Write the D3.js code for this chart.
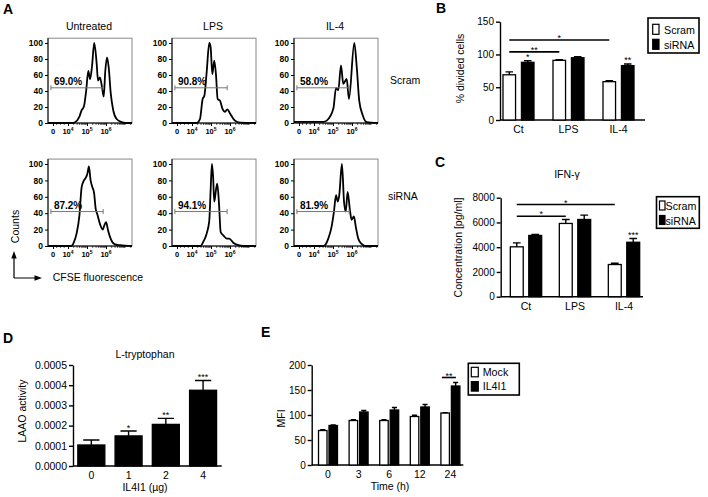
<!DOCTYPE html>
<html><head><meta charset="utf-8">
<script src="https://cdn.jsdelivr.net/npm/d3@7"></script>
<style>body{margin:0;background:#fff}</style>
</head><body>
<svg id="c" width="708" height="497"></svg>
<script>
// ---------------- DATA ----------------
// Panel A: CFSE histograms ([log-decade position, % of max])
const histConds = ["Untreated", "LPS", "IL-4"];
const histRows = ["Scram", "siRNA"];
const histPct = [["69.0%", "90.8%", "58.0%"], ["87.2%", "94.1%", "81.9%"]];
const histYTicks = [0, 20, 40, 60, 80, 100];
const histXTickVals = [3.21, 4, 5, 6];
const histXTickExp = [null, "4", "5", "6"];
const histGate = [3.1, 5.85];
const histGateLevel = [44, 42];

const histUntreatedScram = [[2.95,0],[4.2,0],[4.37,1],[4.6,8],[4.72,16],[4.84,21],[4.95,39],[5.07,65],[5.16,55],[5.26,70],[5.38,100],[5.51,74],[5.58,53],[5.68,57],[5.79,45],[5.88,33],[5.96,64],[6.05,82],[6.14,70],[6.25,37],[6.38,16],[6.56,5],[6.83,1],[7.0,0],[7.37,0]];
const histLPSScram = [[2.95,0],[4.25,0],[4.42,5],[4.56,30],[4.65,34],[4.77,63],[4.91,100],[4.98,95],[5.07,61],[5.17,78],[5.26,61],[5.35,30],[5.47,28],[5.6,18],[5.74,14],[5.86,17],[6.0,12],[6.26,3],[6.53,0.5],[7.37,0]];
const histIL4Scram = [[2.95,1.5],[4.5,1.5],[4.67,3],[5.02,18],[5.16,44],[5.28,41],[5.42,72],[5.54,49],[5.72,55],[5.84,30],[6.12,100],[6.25,70],[6.38,28],[6.56,10],[6.77,1],[7.37,0]];
const histUntreatedSiRNA = [[2.95,0],[4.19,0],[4.28,3],[4.46,16],[4.6,37],[4.72,72],[4.84,80],[4.93,83],[5.02,88],[5.1,97],[5.19,80],[5.28,72],[5.37,65],[5.46,45],[5.54,39],[5.68,27],[5.83,20],[5.91,25],[6.0,29],[6.12,18],[6.26,8],[6.47,2],[6.74,1],[7.37,0]];
const histLPSSiRNA = [[2.95,0],[4.45,0],[4.59,5],[4.77,15],[4.91,31],[4.98,68],[5.05,100],[5.11,85],[5.17,54],[5.26,68],[5.33,76],[5.42,52],[5.51,17],[5.65,13],[5.83,9],[5.96,9],[6.17,4],[6.44,1],[6.7,0],[7.37,0]];
const histIL4SiRNA = [[2.95,0],[4.49,0],[4.58,1],[4.75,9],[4.93,24],[5.05,42],[5.16,62],[5.25,54],[5.33,62],[5.47,100],[5.58,54],[5.67,42],[5.77,66],[5.89,44],[5.98,32],[6.1,36],[6.21,22],[6.33,9],[6.51,2.5],[6.68,0],[7.37,0]];
const histData = [[histUntreatedScram, histLPSScram, histIL4Scram], [histUntreatedSiRNA, histLPSSiRNA, histIL4SiRNA]];

// Panel B: % divided cells
const bCats = ["Ct", "LPS", "IL-4"];
const bSeries = ["Scram", "siRNA"];
const bScram = [69, 91, 58.5];
const bScramSem = [4.5, 1, 1.5];
const bSiRNA = [88, 95, 83];
const bSiRNASem = [2.5, 1.5, 2.5];
const bYTicks = [0, 50, 100, 150];
const bBrackets = [{from: "Ct", to: "IL-4", y: 122, label: "*"}, {from: "Ct", to: "LPS", y: 104, label: "**"}];
const bStars = [{cat: "Ct", series: "siRNA", label: "*"}, {cat: "IL-4", series: "siRNA", label: "**"}];

// Panel C: IFN-γ
const cCats = ["Ct", "LPS", "IL-4"];
const cSeries = ["Scram", "siRNA"];
const cScram = [4030, 5920, 2600];
const cScramSem = [320, 320, 100];
const cSiRNA = [4950, 6240, 4400];
const cSiRNASem = [80, 350, 300];
const cYTicks = [0, 2000, 4000, 6000, 8000];
const cBrackets = [{from: "Ct", to: "IL-4", y: 7450, label: "*"}, {from: "Ct", to: "LPS", y: 6500, label: "*"}];
const cStars = [{cat: "IL-4", series: "siRNA", label: "***"}];

// Panel D: LAAO activity
const dCats = ["0", "1", "2", "4"];
const dSeries = ["IL4I1"];
const dValues = [0.000104, 0.000149, 0.000206, 0.000375];
const dSem = [0.000025, 0.000024, 0.00003, 0.000048];
const dYTicks = [0, 0.0001, 0.0002, 0.0003, 0.0004, 0.0005];
const dStars = [{cat: "1", series: "IL4I1", label: "*"}, {cat: "2", series: "IL4I1", label: "**"}, {cat: "4", series: "IL4I1", label: "***"}];

// Panel E: MFI over time
const eCats = ["0", "3", "6", "12", "24"];
const eSeries = ["Mock", "IL4I1"];
const eMock = [69, 89, 89, 97, 104];
const eMockSem = [1.5, 1.5, 1.5, 2.5, 0.8];
const eIL4I1 = [79, 106, 110, 116, 158];
const eIL4I1Sem = [1, 3, 5, 5, 7];
const eYTicks = [0, 50, 100, 150, 200];
const eBrackets = [{cat: "24", y: 175, label: "**"}];

// ---------------- DRAWING ----------------
const FONT = '"Liberation Sans", Arial, Helvetica, sans-serif';
const svg = d3.select("#c").attr("font-family", FONT);

function txt(x, y, s, o = {}) {
  const t = svg.append("text").attr("x", x).attr("y", y).text(s)
    .attr("font-size", o.fs || 10.5).attr("fill", "#000")
    .attr("text-anchor", o.anchor || "start");
  if (o.bold) t.attr("font-weight", "bold");
  if (o.rot) t.attr("x", null).attr("y", null).attr("transform", `translate(${x},${y}) rotate(-90)`);
  return t;
}
function styleAxis(g, fs, bold, sw) {
  g.attr("font-family", FONT).attr("font-size", fs);
  g.selectAll("text").attr("fill", "#000").attr("font-weight", bold ? "bold" : null);
  g.selectAll("line").attr("stroke", "#000").attr("stroke-width", sw || 1);
  g.select(".domain").attr("stroke", "#000").attr("stroke-width", sw || 1);
}

// Panel letters
[["A", 3, 14], ["B", 436, 13], ["C", 435, 167], ["D", 3, 343], ["E", 261, 337]]
  .forEach(([l, x, y]) => txt(x, y, l, {fs: 14, bold: true}));

// ----- Panel A -----
const colLeft = [48, 172, 294], boxW = 84;
const rowZero = [123, 246], rowTop = [43, 164];
const uLeft = 4 - 20 / 19, uRight = 4 + 64 / 19;

histRows.forEach((row, i) => {
  histConds.forEach((cond, j) => {
    const x = d3.scaleLinear().domain([uLeft, uRight]).range([colLeft[j], colLeft[j] + boxW]);
    const y = d3.scaleLinear().domain([0, 100]).range([rowZero[i], rowTop[i]]);
    const g = svg.append("g");
    g.append("rect").attr("x", x(uLeft)).attr("y", y(106)).attr("width", boxW)
      .attr("height", y(0) - y(106)).attr("fill", "none").attr("stroke", "#888").attr("stroke-width", 1);
    g.append("path").attr("d", `M${x(uLeft)},${y(106)}V${y(0)}H${x(uRight)}`)
      .attr("fill", "none").attr("stroke", "#000").attr("stroke-width", 1);
    g.append("g").attr("transform", `translate(${x(uLeft)},0)`)
      .call(d3.axisLeft(y).tickValues(histYTicks).tickSize(3).tickPadding(2).tickSizeOuter(0))
      .call(a => { a.select(".domain").remove(); styleAxis(a, 8.5, true); });
    g.append("g").attr("transform", `translate(0,${y(0)})`)
      .call(d3.axisBottom(x).tickValues(histXTickVals).tickSize(3).tickFormat(() => "").tickSizeOuter(0))
      .call(a => { a.select(".domain").remove(); styleAxis(a, 7.5, true); });
    const minors = [];
    [4, 5, 6, 7].forEach(d => d3.range(2, 10).forEach(k => { const u = d + Math.log10(k); if (u < uRight) minors.push(u); }));
    [3.4, 3.6, 3.8, 7].forEach(u => minors.push(u));
    g.selectAll(null).data(minors).join("line")
      .attr("x1", d => x(d)).attr("x2", d => x(d)).attr("y1", y(0)).attr("y2", y(0) + 1.8)
      .attr("stroke", "#000").attr("stroke-width", 0.8);
    histXTickVals.forEach((v, k) => {
      const t = g.append("text").attr("x", x(v)).attr("y", y(0) + 10.5).attr("text-anchor", "middle")
        .attr("font-size", 7.5).attr("font-weight", "bold").attr("fill", "#000");
      if (histXTickExp[k] === null) t.text("0");
      else {
        t.append("tspan").text("10");
        t.append("tspan").attr("dy", -3).attr("font-size", 5).text(histXTickExp[k]);
      }
    });
    const clipId = `clip${i}${j}`;
    g.append("clipPath").attr("id", clipId).append("rect")
      .attr("x", x(uLeft)).attr("y", y(106)).attr("width", boxW).attr("height", y(0) - y(106) + 1);
    const line = d3.line().x(d => x(d[0])).y(d => y(d[1])).curve(d3.curveMonotoneX);
    g.append("path").datum(histData[i][j]).attr("d", line).attr("clip-path", `url(#${clipId})`)
      .attr("fill", "none").attr("stroke", "#000").attr("stroke-width", 1.8).attr("stroke-linejoin", "round");
    const gy = y(histGateLevel[i]);
    g.append("path").attr("d", `M${x(histGate[0])},${gy}H${x(histGate[1])}M${x(histGate[0])},${gy - 2.5}V${gy + 2.5}M${x(histGate[1])},${gy - 2.5}V${gy + 2.5}`)
      .attr("stroke", "#777").attr("stroke-width", 1).attr("fill", "none");
    g.append("text").attr("x", x(histGate[0]) + 3).attr("y", gy - 3).text(histPct[i][j])
      .attr("font-size", 10).attr("font-weight", "bold").attr("fill", "#000");
    if (i === 0) txt(colLeft[j] + boxW / 2 - 1, 30, cond, {anchor: "middle", fs: 10.5});
  });
});
txt(390, 84, histRows[0], {fs: 10.5});
txt(388, 200, histRows[1], {fs: 10.5});

svg.append("path").attr("d", "M14,278V256M14,278H37").attr("stroke", "#000").attr("stroke-width", 1.2).attr("fill", "none");
svg.append("path").attr("d", "M14,251L11.3,258.5L16.7,258.5Z").attr("fill", "#000");
svg.append("path").attr("d", "M42,278L34.5,275.3L34.5,280.7Z").attr("fill", "#000");
txt(18.5, 226.5, "Counts", {rot: true, anchor: "middle", fs: 10.5});
txt(52.7, 281, "CFSE fluorescence", {fs: 10.5});

// ----- Generic bar chart -----
function barChart(cfg) {
  const x0 = d3.scaleBand().domain(cfg.cats).range([cfg.start, cfg.start + cfg.step * cfg.cats.length])
    .paddingInner(cfg.pIn).paddingOuter(cfg.pIn / 2);
  const x1 = d3.scaleBand().domain(cfg.series).range([0, x0.bandwidth()]).paddingInner(cfg.pSub);
  const y = d3.scaleLinear().domain(cfg.yDomain).range(cfg.yRange);
  svg.append("g").attr("transform", `translate(${cfg.axisX},0)`)
    .call(d3.axisLeft(y).tickValues(cfg.yTicks).tickSize(4).tickPadding(2).tickSizeOuter(0).tickFormat(cfg.yFmt))
    .call(a => styleAxis(a, cfg.yFs || 10, false, 1.4));
  svg.append("line").attr("x1", cfg.axisX).attr("x2", cfg.axisXEnd).attr("y1", y(0)).attr("y2", y(0))
    .attr("stroke", "#000").attr("stroke-width", 1.4);
  svg.append("g").attr("transform", `translate(0,${y(0)})`)
    .call(d3.axisBottom(x0).tickSize(0).tickPadding(5.5))
    .call(a => { a.select(".domain").remove(); styleAxis(a, 10.5); });
  const rows = [];
  cfg.series.forEach((s, si) => cfg.cats.forEach((c, ci) => rows.push({
    cat: c, series: s, si, v: cfg.values[si][ci], e: cfg.errs[si][ci]})));
  const bx = d => x0(d.cat) + x1(d.series);
  const bw = x1.bandwidth();
  svg.append("g").selectAll("rect").data(rows).join("rect")
    .attr("x", bx).attr("y", d => y(d.v)).attr("width", bw).attr("height", d => y(0) - y(d.v))
    .attr("fill", d => cfg.fills[d.si]).attr("stroke", "#000").attr("stroke-width", 1.3);
  svg.append("g").selectAll("path").data(rows).join("path")
    .attr("d", d => { const cx = bx(d) + bw / 2, cw = bw * 0.3;
      return `M${cx},${y(d.v)}V${y(d.v + d.e)}M${cx - cw},${y(d.v + d.e)}H${cx + cw}`; })
    .attr("stroke", "#000").attr("stroke-width", 1.4).attr("fill", "none");
  const find = (c, s) => rows.find(r => r.cat === c && r.series === s);
  (cfg.stars || []).forEach(st => {
    const r = find(st.cat, st.series);
    txt(bx(r) + bw / 2, y(r.v + r.e) - 0.5, st.label, {anchor: "middle", fs: 9});
  });
  (cfg.brackets || []).forEach(b => {
    let xa, xb;
    if (b.from) { xa = x0(b.from) + x1(cfg.series[0]) + bw / 2; xb = x0(b.to) + x1(cfg.series[0]) + bw / 2; }
    else { xa = x0(b.cat) + 1; xb = x0(b.cat) + x0.bandwidth() - 4; }
    svg.append("line").attr("x1", xa).attr("x2", xb).attr("y1", y(b.y)).attr("y2", y(b.y))
      .attr("stroke", "#000").attr("stroke-width", 1.6);
    txt((xa + xb) / 2, y(b.y) + 1, b.label, {anchor: "middle", fs: 9});
  });
  return {x0, x1, y};
}
function legend(x, y, w, h, labels, fills, o) {
  svg.append("rect").attr("x", x).attr("y", y).attr("width", w).attr("height", h)
    .attr("fill", "#fff").attr("stroke", "#000").attr("stroke-width", 1.6);
  labels.forEach((l, k) => {
    svg.append("rect").attr("x", x + o.sx).attr("y", y + o.sy + k * o.dy).attr("width", o.sw).attr("height", o.sh)
      .attr("fill", fills[k]).attr("stroke", "#000").attr("stroke-width", 1.2);
    txt(x + o.tx, y + o.ty + k * o.dy, l, {fs: 10.7});
  });
}

// ----- Panel B -----
barChart({cats: bCats, series: bSeries, values: [bScram, bSiRNA], errs: [bScramSem, bSiRNASem],
  start: 493.5, step: 50, pIn: 0.38, pSub: 0.32, yDomain: [0, 150], yRange: [120, 21.7],
  yTicks: bYTicks, yFmt: d3.format("d"), axisX: 500, axisXEnd: 645, fills: ["#fff", "#000"],
  stars: bStars, brackets: bBrackets});
txt(464, 68.5, "% divided cells", {rot: true, anchor: "middle", fs: 10.5});
legend(648, 18, 51, 35, bSeries, ["#fff", "#000"], {sx: 4.7, sy: 6.3, sw: 6.3, sh: 10, tx: 16, ty: 15.5, dy: 15});

// ----- Panel C -----
barChart({cats: cCats, series: cSeries, values: [cScram, cSiRNA], errs: [cScramSem, cSiRNASem],
  start: 501.5, step: 49, pIn: 0.36, pSub: 0.3, yDomain: [0, 8000], yRange: [296.7, 197.7],
  yTicks: cYTicks, yFmt: d3.format("d"), axisX: 500.7, axisXEnd: 643, fills: ["#fff", "#000"],
  stars: cStars, brackets: cBrackets});
txt(567, 177.5, "IFN-γ", {anchor: "middle", fs: 10.5});
txt(462, 247.5, "Concentration [pg/ml]", {rot: true, anchor: "middle", fs: 10.5});
legend(656.5, 196.7, 42.8, 31.6, cSeries, ["#fff", "#000"], {sx: 3, sy: 4.3, sw: 5.5, sh: 9, tx: 9, ty: 13.3, dy: 14.5});

// ----- Panel D -----
barChart({cats: dCats, series: dSeries, values: [dValues], errs: [dSem],
  start: 72.7, step: 37.25, pIn: 0.275, pSub: 0, yDomain: [0, 0.0005], yRange: [466, 365],
  yTicks: dYTicks, yFmt: d3.format(".4f"), yFs: 10.5, axisX: 73, axisXEnd: 221.7, fills: ["#000"],
  stars: dStars});
txt(145, 357.5, "L-tryptophan", {anchor: "middle", fs: 10.5});
txt(26, 411, "LAAO activity", {rot: true, anchor: "middle", fs: 10.5});
txt(145, 491, "IL4I1 (µg)", {anchor: "middle", fs: 10.5});

// ----- Panel E -----
barChart({cats: eCats, series: eSeries, values: [eMock, eIL4I1], errs: [eMockSem, eIL4I1Sem],
  start: 312.7, step: 30.6, pIn: 0.38, pSub: 0.19, yDomain: [0, 200], yRange: [465, 365],
  yTicks: eYTicks, yFmt: d3.format("d"), axisX: 311.7, axisXEnd: 463.3, fills: ["#fff", "#000"],
  brackets: eBrackets});
txt(285, 418.5, "MFI", {rot: true, anchor: "middle", fs: 10.5});
txt(390, 490, "Time (h)", {anchor: "middle", fs: 10.5});
legend(468.3, 363.3, 51, 31.7, eSeries, ["#fff", "#000"], {sx: 3, sy: 4, sw: 7, sh: 9.5, tx: 14.4, ty: 12.7, dy: 14.3});
</script>
</body></html>
